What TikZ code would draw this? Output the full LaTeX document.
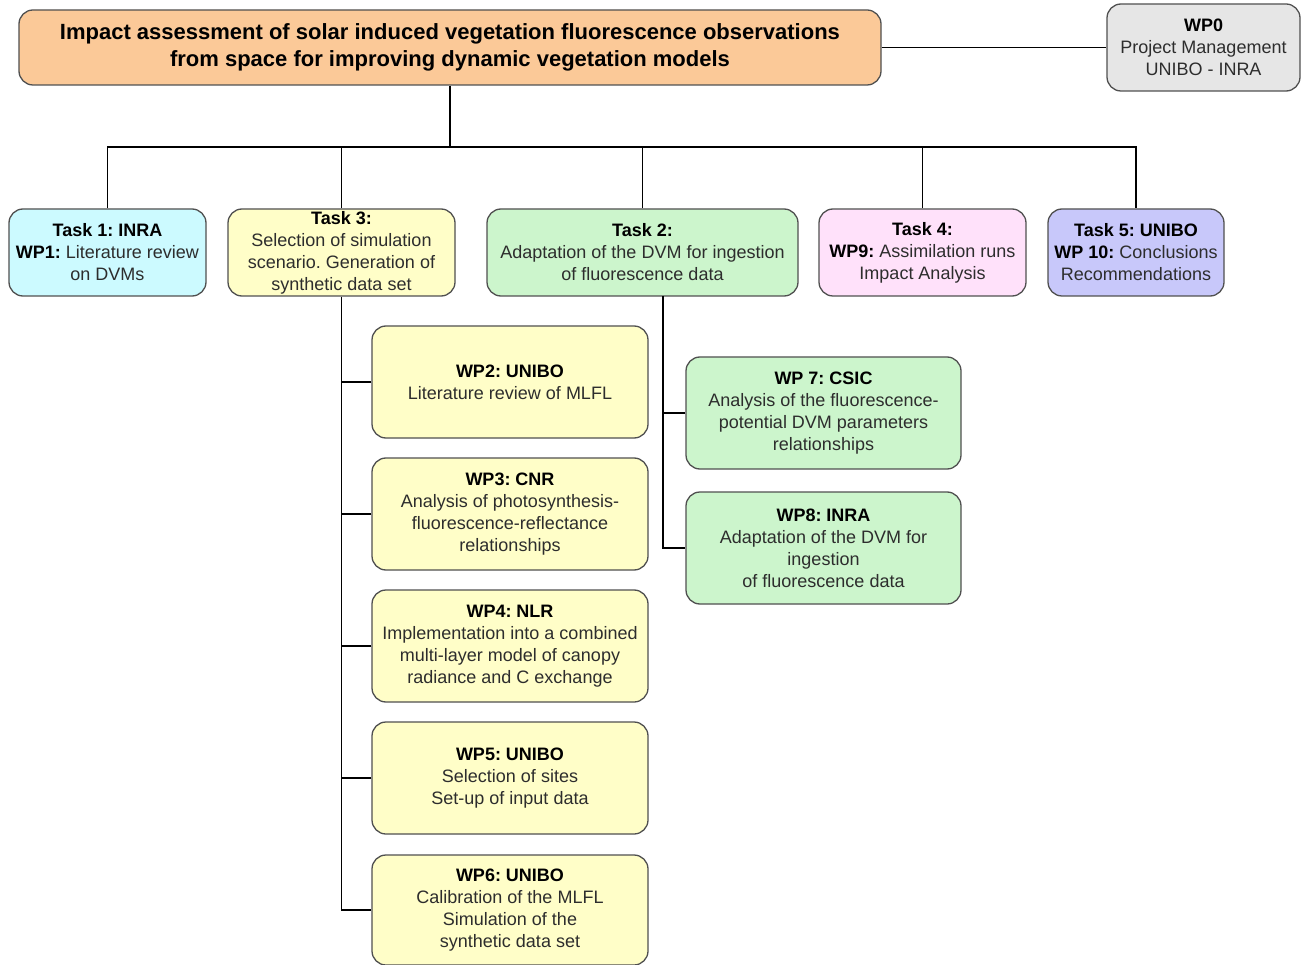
\documentclass[tikz,border=0pt]{standalone}
\usepackage{fontspec}
\setmainfont{Liberation Sans}
\frenchspacing
\definecolor{bordc}{RGB}{80,80,80}
\definecolor{txtc}{RGB}{45,45,45}
\definecolor{orangec}{RGB}{251,201,152}
\definecolor{grayc}{RGB}{230,230,230}
\definecolor{cyanc}{RGB}{204,250,255}
\definecolor{yellowc}{RGB}{255,254,200}
\definecolor{greenc}{RGB}{204,245,204}
\definecolor{pinkc}{RGB}{255,225,250}
\definecolor{lavc}{RGB}{200,200,250}
\newcommand\bt[1]{\textbf{\color{black}#1}}
\tikzset{
  box/.style={draw=bordc, line width=1.3pt, rounded corners=14pt, inner sep=2pt,
    align=center, text=txtc, font=\fontsize{18}{22}\selectfont\frenchspacing},
  conn/.style={draw=black, line width=1.1pt},
}
\begin{document}
\begin{tikzpicture}[x=1pt,y=-1pt]
\useasboundingbox (0,0) rectangle (1306,965);
% title and WP0
\node[box, fill=orangec, minimum width=862pt, minimum height=75pt,
  font=\fontsize{22}{27}\selectfont\bfseries, text=black] (title) at (450,47.5)
  {Impact assessment of solar induced vegetation fluorescence observations\\from space for improving dynamic vegetation models};
\node[box, fill=grayc, minimum width=193pt, minimum height=87pt] (wp0) at (1203.5,47.5)
  {\bt{WP0}\\Project Management\\UNIBO - INRA};
% tasks
\node[box, fill=cyanc, minimum width=197pt, minimum height=87pt] (t1) at (107.5,252.5)
  {\bt{Task 1: INRA}\\\bt{WP1:} Literature review\\on DVMs};
\node[box, fill=yellowc, minimum width=227pt, minimum height=87pt] (t3) at (341.5,252.5)
  {\bt{Task 3:}\\Selection of simulation\\scenario. Generation of\\synthetic data set};
\node[box, fill=greenc, minimum width=311pt, minimum height=87pt] (t2) at (642.5,252.5)
  {\bt{Task 2:}\\Adaptation of the DVM for ingestion\\of fluorescence data};
\node[box, fill=pinkc, minimum width=207pt, minimum height=87pt] (t4) at (922.5,252.5)
  {\bt{Task 4:}\\\bt{WP9:} Assimilation runs\\Impact Analysis};
\node[box, fill=lavc, minimum width=176pt, minimum height=87pt] (t5) at (1136,252.5)
  {\bt{Task 5: UNIBO}\\\bt{WP 10:} Conclusions\\Recommendations};
% WP under task 3
\node[box, fill=yellowc, minimum width=276pt, minimum height=112pt] (wp2) at (510,382)
  {\bt{WP2: UNIBO}\\Literature review of MLFL};
\node[box, fill=yellowc, minimum width=276pt, minimum height=112pt] (wp3) at (510,514)
  {\bt{WP3: CNR}\\Analysis of photosynthesis-\\fluorescence-reflectance\\relationships};
\node[box, fill=yellowc, minimum width=276pt, minimum height=112pt] (wp4) at (510,646)
  {\bt{WP4: NLR}\\Implementation into a combined\\multi-layer model of canopy\\radiance and C exchange};
\node[box, fill=yellowc, minimum width=276pt, minimum height=112pt] (wp5) at (510,778)
  {\bt{WP5: UNIBO}\\Selection of sites\\Set-up of input data};
\node[box, fill=yellowc, minimum width=276pt, minimum height=110pt] (wp6) at (510,910)
  {\bt{WP6: UNIBO}\\Calibration of the MLFL\\Simulation of the\\synthetic data set};
% WP under task 2
\node[box, fill=greenc, minimum width=275pt, minimum height=112pt] (wp7) at (823.5,413)
  {\bt{WP 7: CSIC}\\Analysis of the fluorescence-\\potential DVM parameters\\relationships};
\node[box, fill=greenc, minimum width=275pt, minimum height=112pt] (wp8) at (823.5,548)
  {\bt{WP8: INRA}\\Adaptation of the DVM for\\ingestion\\of fluorescence data};
% connectors
\coordinate (bus) at (450,147);
\coordinate (t2b) at (663,296);
\draw[conn] (title) -- (wp0);
\draw[conn] (title.south) -- (bus);
\draw[conn] (t1.north) |- (bus) -| (t5.north);
\draw[conn] (t3.north) -- (t3.north |- bus);
\draw[conn] (t2.north) -- (t2.north |- bus);
\draw[conn] (t4.north) -- (t4.north |- bus);
\draw[conn] (t3.south) |- (wp6.west);
\draw[conn] (wp2.west) -- (wp2.west -| t3.south);
\draw[conn] (wp3.west) -- (wp3.west -| t3.south);
\draw[conn] (wp4.west) -- (wp4.west -| t3.south);
\draw[conn] (wp5.west) -- (wp5.west -| t3.south);
\draw[conn] (t2b) |- (wp8.west);
\draw[conn] (wp7.west) -- (wp7.west -| t2b);
\end{tikzpicture}
\end{document}
